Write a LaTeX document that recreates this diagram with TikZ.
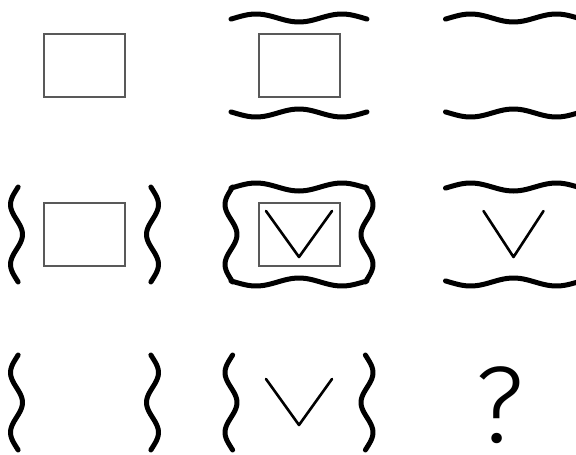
\documentclass[tikz,border=0pt]{standalone}
\usepackage{fontspec}
\newfontfamily\qfont{Fira Sans Light}
\tikzset{
  frame/.style={draw=black!65,line width=2pt,minimum width=81pt,minimum height=63pt,inner sep=0pt},
  wavy/.style={line width=5pt,line cap=round,line join=round},
  vee/.style={line width=2.6pt,line cap=round,line join=round}
}
% top and bottom waves of a cell
\newcommand{\hwaves}[2]{%
  \draw[wavy] plot[domain=-1:1,samples=41,smooth] ({#1+68*\x},{#2-47.5+4*cos(180*\x/0.63)});
  \draw[wavy] plot[domain=-1:1,samples=41,smooth] ({#1+68*\x},{#2+47.5-4*cos(180*\x/0.63)});}
% left and right braces of a cell
\newcommand{\vwaves}[2]{%
  \draw[wavy] plot[domain=-1:1,samples=41,smooth] ({#1-68+6*cos(180*\x/0.63)},{#2+47.5*\x});
  \draw[wavy] plot[domain=-1:1,samples=41,smooth] ({#1+68-6*cos(180*\x/0.63)},{#2+47.5*\x});}
\newcommand{\vshape}[3]{%
  \draw[vee] (#1-#3,#2-23.5) -- (#1,#2+22.5) -- (#1+#3,#2-23.5);}
\begin{document}
\begin{tikzpicture}[x=1pt,y=-1pt]
\fill[white] (0,0) rectangle (576,455);
\useasboundingbox (0,0) rectangle (576,455);
% squares
\foreach \n/\cx/\cy in {a/84.5/65.5,b/299/65.5,c/84.5/234.5,d/299/234.5}
  \node[frame] (box\n) at (\cx,\cy) {};
% waves
\begin{scope}
\clip (0,0) rectangle (576,455);
\hwaves{299}{65.5}
\hwaves{513.5}{65.5}
\hwaves{299}{234.5}
\hwaves{513.5}{234.5}
\vwaves{84.5}{234.5}
\vwaves{299}{234.5}
\vwaves{84.5}{402.5}
\vwaves{299}{402.5}
\end{scope}
% checks
\vshape{299}{234.5}{33}
\vshape{513.5}{234.5}{30}
\vshape{299}{402.5}{33}
\node[inner sep=0pt,font=\qfont\fontsize{109}{109}\selectfont] (query) at (500,405.5) {?};
\end{tikzpicture}
\end{document}
